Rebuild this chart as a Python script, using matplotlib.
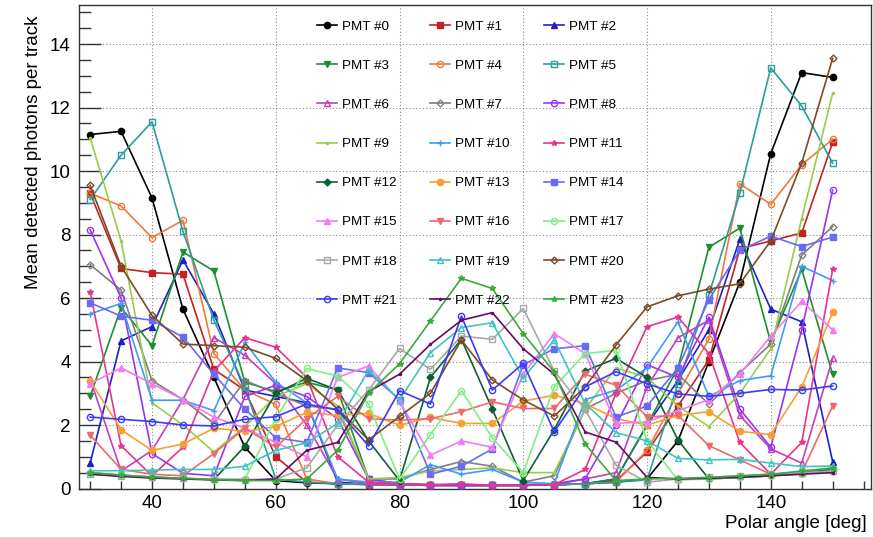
import numpy as np
import matplotlib
matplotlib.use("Agg")
import matplotlib.pyplot as plt
from matplotlib.ticker import MultipleLocator

plt.rcParams['font.family'] = ['Liberation Sans', 'DejaVu Sans']

# polar angle bins [deg]
angles = [30, 35, 40, 45, 50, 55, 60, 65, 70, 75, 80, 85, 90,
          95, 100, 105, 110, 115, 120, 125, 130, 135, 140, 145, 150]

# mean detected photons per track, one list per PMT
pmt_0 = [11.15, 11.25, 9.15, 5.65, 3.5, 1.3, 0.25, 0.18, 0.15, 0.13, 0.12, 0.1, 0.1,
         0.1, 0.1, 0.12, 0.15, 0.2, 0.3, 1.5, 4.0, 6.5, 10.55, 13.1, 12.95]
pmt_1 = [9.3, 6.93, 6.8, 6.75, 3.75, 3.1, 1.0, 0.2, 0.15, 0.12, 0.12, 0.1, 0.1,
         0.1, 0.1, 0.12, 0.15, 0.25, 1.15, 2.6, 4.05, 7.55, 7.8, 8.05, 10.9]
pmt_2 = [0.8, 4.65, 5.1, 7.2, 5.5, 3.1, 2.9, 2.7, 0.2, 0.13, 0.12, 0.1, 0.1,
         0.1, 0.1, 0.12, 0.15, 0.3, 2.0, 3.4, 5.0, 7.85, 5.65, 5.25, 0.85]
pmt_3 = [2.9, 5.7, 4.5, 7.45, 6.85, 3.35, 3.05, 3.35, 3.1, 0.3, 0.15, 0.12, 0.1,
         0.1, 0.1, 0.12, 0.15, 0.3, 2.0, 3.8, 7.6, 8.2, 4.6, 6.9, 3.6]
pmt_4 = [9.3, 8.9, 7.9, 8.45, 4.25, 3.1, 2.65, 0.3, 0.15, 0.13, 0.12, 0.1, 0.1,
         0.1, 0.1, 0.12, 0.15, 0.2, 1.2, 3.0, 4.7, 9.6, 8.95, 10.2, 11.0]
pmt_5 = [9.1, 10.5, 11.55, 8.1, 5.3, 3.2, 0.3, 0.2, 0.15, 0.13, 0.12, 0.1, 0.1,
         0.1, 0.1, 0.12, 0.15, 0.2, 0.27, 3.3, 6.1, 9.3, 13.25, 12.05, 10.25]
pmt_6 = [3.45, 0.55, 1.2, 2.8, 4.75, 4.2, 3.3, 2.0, 0.3, 0.15, 0.12, 0.1, 0.1,
         0.1, 0.1, 0.12, 0.3, 0.5, 3.2, 4.75, 5.3, 2.3, 1.25, 0.8, 4.1]
pmt_7 = [7.05, 6.25, 3.4, 2.8, 2.05, 3.4, 3.0, 2.6, 2.5, 0.3, 0.3, 0.6, 0.85,
         0.7, 0.2, 0.4, 2.5, 3.0, 3.4, 3.6, 2.65, 3.65, 4.55, 7.35, 8.25]
pmt_8 = [8.15, 6.0, 1.1, 0.48, 0.4, 2.9, 3.25, 2.9, 2.2, 0.3, 0.15, 0.12, 0.1,
         0.1, 0.12, 0.15, 0.3, 2.0, 3.9, 3.5, 5.4, 2.5, 1.3, 5.0, 9.4]
pmt_9 = [11.05, 7.8, 2.7, 2.0, 1.15, 1.95, 2.9, 3.3, 2.6, 0.3, 0.35, 0.55, 0.6,
         0.65, 0.5, 0.5, 2.5, 3.8, 3.5, 2.6, 1.95, 3.0, 4.4, 8.5, 12.45]
pmt_10 = [5.5, 5.83, 2.78, 2.78, 2.45, 4.6, 3.35, 2.7, 0.3, 0.2, 0.2, 0.75, 0.45,
          0.6, 0.2, 0.15, 2.8, 3.1, 3.8, 5.25, 2.9, 3.4, 3.55, 7.0, 6.55]
pmt_11 = [6.2, 1.35, 0.4, 1.3, 3.7, 4.75, 4.45, 3.5, 1.0, 0.2, 0.15, 0.12, 0.15,
          0.1, 0.1, 0.12, 0.6, 3.0, 5.1, 5.4, 4.25, 1.45, 0.45, 1.45, 6.9]
pmt_12 = [0.5, 0.42, 0.36, 0.32, 0.28, 1.33, 3.0, 3.47, 3.1, 1.5, 0.25, 3.5, 4.7,
          2.5, 0.25, 1.85, 3.7, 4.1, 3.5, 1.53, 0.3, 0.35, 0.4, 0.5, 0.6]
pmt_13 = [3.4, 1.85, 1.2, 1.4, 1.9, 1.8, 1.95, 2.4, 2.3, 2.37, 1.99, 2.24, 2.05,
          2.05, 2.75, 2.94, 2.67, 2.2, 2.0, 2.3, 2.42, 1.8, 1.7, 3.2, 5.55]
pmt_14 = [5.85, 5.43, 5.3, 4.77, 3.6, 2.5, 1.6, 1.45, 3.8, 3.65, 2.8, 0.45, 0.7,
          1.25, 3.9, 4.4, 4.5, 2.25, 2.6, 3.8, 5.95, 7.5, 7.95, 7.62, 7.92]
pmt_15 = [3.3, 3.8, 3.3, 2.8, 2.25, 1.9, 1.45, 1.0, 3.5, 3.86, 2.75, 1.05, 1.5,
          1.3, 3.6, 4.88, 4.25, 2.05, 2.1, 2.45, 2.8, 3.6, 4.8, 5.9, 5.0]
pmt_16 = [1.68, 0.6, 0.45, 0.4, 1.1, 1.9, 1.3, 2.2, 2.9, 2.2, 2.15, 2.2, 2.42,
          2.73, 2.52, 2.52, 3.6, 3.25, 2.26, 2.3, 1.35, 0.9, 0.45, 0.5, 2.6]
pmt_17 = [0.5, 0.42, 0.36, 0.32, 0.28, 0.3, 2.2, 3.78, 3.54, 2.66, 0.3, 1.7, 3.08,
          1.6, 0.5, 3.2, 4.25, 4.35, 1.5, 0.27, 0.3, 0.35, 0.4, 0.45, 0.55]
pmt_18 = [0.45, 0.4, 0.35, 0.32, 0.3, 0.28, 0.3, 0.65, 2.0, 3.1, 4.41, 3.75, 4.8,
          4.7, 5.67, 3.7, 2.49, 0.73, 0.2, 0.3, 0.35, 0.4, 0.45, 0.5, 0.55]
pmt_19 = [0.56, 0.56, 0.58, 0.6, 0.6, 0.7, 1.2, 1.44, 2.05, 3.73, 2.8, 4.28, 5.07,
          5.22, 3.47, 4.68, 2.68, 1.76, 1.5, 0.95, 0.9, 0.92, 0.8, 0.69, 0.71]
pmt_20 = [9.55, 7.0, 5.45, 4.55, 4.5, 4.45, 4.1, 3.4, 2.5, 1.53, 2.27, 3.0, 4.68,
          3.42, 2.79, 2.28, 3.2, 4.52, 5.72, 6.07, 6.28, 6.45, 7.8, 10.25, 13.55]
pmt_21 = [2.25, 2.18, 2.11, 2.0, 1.97, 2.18, 2.26, 2.66, 2.47, 1.34, 3.08, 2.66, 5.43,
          3.1, 3.94, 1.79, 3.2, 3.68, 3.3, 2.98, 2.9, 3.0, 3.12, 3.1, 3.23]
pmt_22 = [0.45, 0.38, 0.33, 0.3, 0.27, 0.25, 0.3, 1.2, 1.45, 3.05, 3.6, 4.54, 5.3,
          5.54, 4.4, 3.6, 1.78, 1.46, 0.35, 0.3, 0.32, 0.35, 0.4, 0.45, 0.5]
pmt_23 = [0.5, 0.42, 0.36, 0.32, 0.28, 0.25, 0.25, 0.3, 1.2, 3.0, 3.93, 5.28, 6.62,
          6.3, 4.88, 3.67, 1.4, 0.25, 0.3, 0.32, 0.35, 0.4, 0.45, 0.55, 0.65]

series = [pmt_0, pmt_1, pmt_2, pmt_3, pmt_4, pmt_5, pmt_6, pmt_7, pmt_8, pmt_9,
          pmt_10, pmt_11, pmt_12, pmt_13, pmt_14, pmt_15, pmt_16, pmt_17, pmt_18,
          pmt_19, pmt_20, pmt_21, pmt_22, pmt_23]
labels = ["PMT #%d" % i for i in range(len(series))]

# styles (colour, marker, open?)
colors = ['#000000', '#c42222', '#2020c8', '#1b8f30', '#f07838', '#2a9d9d',
          '#c040c0', '#7f7f7f', '#9a35ee', '#99cc4d', '#3d9cf5', '#e8348c',
          '#0e5e34', '#f5a030', '#6a6af5', '#f07cf0', '#ee6a6a', '#80ee80',
          '#a8a8a8', '#40c4c4', '#7b4a27', '#3b3bf5', '#660a66', '#3aaa3a']
markers = ['o', 's', '^', 'v', 'o', 's', '^', 'D', 'o', '.', '+', '*',
           'D', 'o', 's', '^', 'v', 'o', 's', '^', 'D', 'o', '.', '*']
hollow = [False, False, False, False, True, True, True, True, True, False, False, False,
          False, False, False, False, False, True, True, True, True, True, False, False]
msizes = [4.5, 4.5, 4.5, 4.5, 4.5, 4.5, 5, 3.5, 4.5, 3, 5, 4,
          3.5, 4.5, 4.5, 4.5, 4.5, 4.5, 4.5, 5, 3.5, 4.5, 3, 4]

fig = plt.figure(figsize=(8.73, 5.37), dpi=100)
ax = fig.add_axes([79 / 873, 1 - 488.5 / 537, 792 / 873, 483.5 / 537])

handles = []
for i, ys in enumerate(series):
    h, = ax.plot(angles, ys, color=colors[i], lw=1.2, marker=markers[i], ms=msizes[i],
                 mfc='none' if hollow[i] else colors[i], mec=colors[i], mew=1.0,
                 label=labels[i], zorder=3 + i * 0.01)
    handles.append(h)

ax.set_xlim(28.2, 156.2)
ax.set_ylim(0, 15.23)

ax.xaxis.set_major_locator(MultipleLocator(20))
ax.xaxis.set_minor_locator(MultipleLocator(5))
ax.yaxis.set_major_locator(MultipleLocator(2))
ax.yaxis.set_minor_locator(MultipleLocator(0.5))
ax.set_xticks([40, 60, 80, 100, 120, 140])

ax.tick_params(axis='both', which='both', direction='in', top=False, right=False,
               labelsize=13.5, color='#333333', width=1)
ax.tick_params(axis='y', which='major', length=16, pad=6)
ax.tick_params(axis='y', which='minor', length=8.5)
ax.tick_params(axis='x', which='major', length=9, pad=5)
ax.tick_params(axis='x', which='minor', length=6)

for s in ax.spines.values():
    s.set_color('#333333')
    s.set_linewidth(1)

ax.grid(True, which='major', color='#8a8a8a', linestyle=(0, (1, 2)), lw=0.8)
ax.set_axisbelow(True)

ax.set_xlabel('Polar angle [deg]', fontsize=13.5, loc='right')
ax.xaxis.set_label_coords(0.995, -0.054)
ax.set_ylabel('Mean detected photons per track', fontsize=13.5, loc='top')
ax.yaxis.set_label_coords(-0.047, 0.979)

# legend filled row by row (3 columns)
order = [i for c in range(3) for i in range(c, len(series), 3)]
fs = 9.7
fs_px = fs * 100 / 72
leg = ax.legend([handles[i] for i in order], [labels[i] for i in order],
                ncol=3, loc='upper left', frameon=False, fontsize=fs,
                bbox_to_anchor=(317 / 873, 1 - 20.5 / 537), bbox_transform=fig.transFigure,
                borderpad=0, borderaxespad=0, handlelength=20 / fs_px,
                handletextpad=5 / fs_px, columnspacing=2.5, labelspacing=1.98,
                numpoints=1)
leg.set_zorder(10)

fig.savefig('out.png', dpi=100)
